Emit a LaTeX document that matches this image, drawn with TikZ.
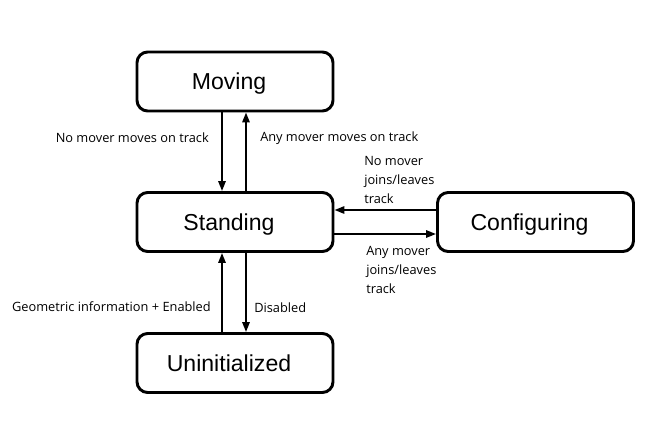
\documentclass[tikz,border=0pt]{standalone}
\usepackage{fontspec}
\setmainfont{Liberation Sans}
\newfontfamily\lblfont{Open Sans}
\usetikzlibrary{arrows.meta}
\begin{document}
\begin{tikzpicture}[x=0.75pt,y=-0.75pt,
  state/.style={draw,line width=2.2pt,rounded corners=8pt,minimum width=196*0.75pt,minimum height=59*0.75pt,inner sep=0pt,text depth=0pt,font=\fontsize{17.3}{20}\selectfont},
  conn/.style={line width=1.5pt,-{Triangle[length=7.5pt,width=5.5pt]}},
  lbl/.style={font=\lblfont\fontsize{9.6}{14.2}\selectfont,inner sep=0pt}]
\useasboundingbox (0,0) rectangle (652,425);
\newcommand\sft[1]{#1\hspace*{9pt}}
\node[state] (mov) at (235,81.5) {\sft{Moving}};
\node[state] (std) at (235,222) {\sft{Standing}};
\node[state] (uni) at (235,363) {\sft{Uninitialized}};
\node[state] (cfg) at (535.5,222) {\sft{Configuring}};
\draw[conn] (mov.south -| 222,0) -- (std.north -| 222,0);
\draw[conn] (std.north -| 246,0) -- (mov.south -| 246,0);
\draw[conn] (uni.north -| 222,0) -- (std.south -| 222,0);
\draw[conn] (std.south -| 246,0) -- (uni.north -| 246,0);
\draw[conn] (cfg.west |- 0,210) -- (std.east |- 0,210);
\draw[conn] (std.east |- 0,234) -- (cfg.west |- 0,234);
\node[lbl,anchor=east] (l1) at (209,138) {No mover moves on track};
\node[lbl,anchor=west] (l2) at (260,138) {Any mover moves on track};
\node[lbl,anchor=west,align=left] (l3) at (364,180) {No mover\\joins/leaves\\track};
\node[lbl,anchor=west,align=left] (l4) at (366,270) {Any mover\\joins/leaves\\track};
\node[lbl,anchor=east] (l5) at (211,307) {Geometric information + Enabled};
\node[lbl,anchor=west] (l6) at (254,308) {Disabled};
\end{tikzpicture}
\end{document}
